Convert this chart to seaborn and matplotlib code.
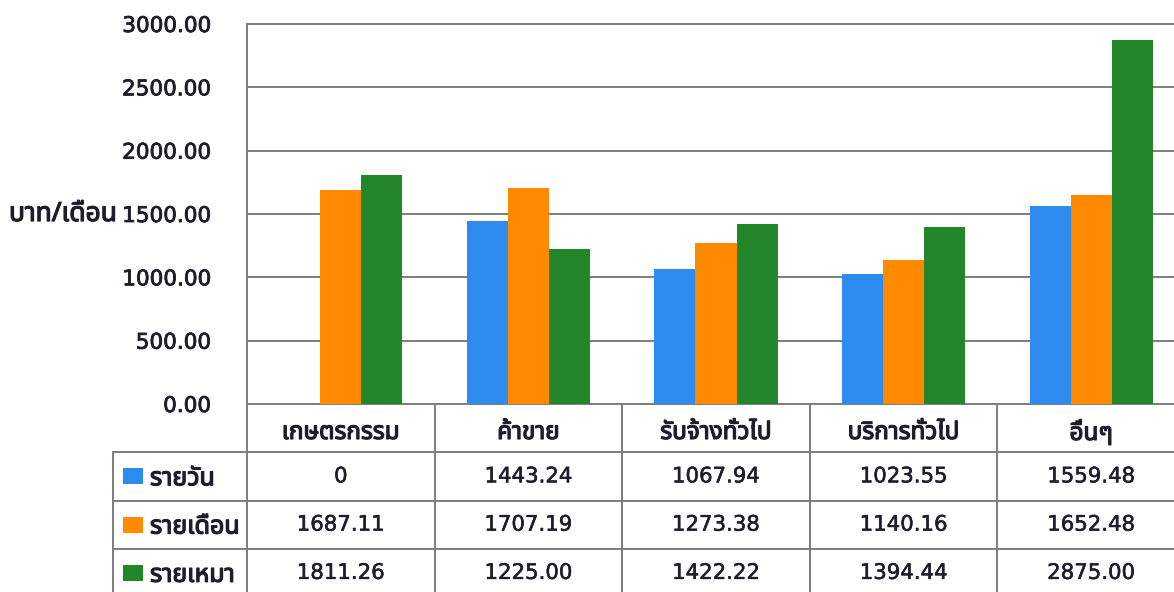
import matplotlib
matplotlib.use("Agg")
import matplotlib.pyplot as plt
import matplotlib.transforms as mtransforms
import matplotlib.patheffects as pe
from matplotlib import font_manager
from matplotlib.ft2font import FT2Font
from matplotlib.patches import Rectangle
import numpy as np
import pandas as pd
import seaborn as sns

# ---- data -------------------------------------------------------------
categories = ["เกษตรกรรม", "ค้าขาย", "รับจ้างทั่วไป", "บริการทั่วไป", "อื่นๆ"]
series_names = ["รายวัน", "รายเดือน", "รายเหมา"]
daily = [0, 1443.24, 1067.94, 1023.55, 1559.48]
monthly = [1687.11, 1707.19, 1273.38, 1140.16, 1652.48]
piecework = [1811.26, 1225.00, 1422.22, 1394.44, 2875.00]
y_ticks = [0, 500, 1000, 1500, 2000, 2500, 3000]
y_label = "บาท/เดือน"
colors = ["#2E8BEF", "#FF8A00", "#23862A"]


def find_thai_family():
    preferred = ["Tahoma", "Noto Sans Thai", "Noto Sans Thai UI", "Loma",
                 "Garuda", "Sarabun", "Waree", "Umpush", "Kinnari", "Norasi",
                 "Laksaman", "Sawasdee", "TlwgTypo", "Purisa"]
    found = {}
    for f in font_manager.fontManager.ttflist:
        try:
            if FT2Font(f.fname).get_char_index(0x0E01):
                found.setdefault(f.name, f.fname)
        except Exception:
            pass
    for p in preferred:
        if p in found:
            return p
    return next(iter(found), None)


sns.set_style("white")
thai = find_thai_family()
thai_family = [thai, "DejaVu Sans"] if thai else ["DejaVu Sans"]
plt.rcParams["font.family"] = ["DejaVu Sans"]

text_c = "#1f1d2b"
# heavier strokes for the Thai labels and a light one for the numbers
heavy = [pe.withStroke(linewidth=0.9, foreground=text_c)]
light = [pe.withStroke(linewidth=0.4, foreground=text_c)]

W, H = 1174, 592
fig = plt.figure(figsize=(W / 100, H / 100), dpi=100)
fig.patch.set_facecolor("white")

# pixel geometry of the plot area
x0, x1 = 247, 1185          # category band spans past the right edge
y_top, y_zero = 24, 404
unit = (x1 - x0) / 5.0      # pixels per category
ax = fig.add_axes([x0 / W, (H - y_zero) / H, (x1 - x0) / W, (y_zero - y_top) / H])

df = pd.DataFrame({
    "category": np.repeat(categories, 3),
    "series": series_names * len(categories),
    "value": np.ravel(np.column_stack([daily, monthly, piecework])),
})

sns.barplot(data=df, x="category", y="value", hue="series",
            order=categories, hue_order=series_names, palette=colors,
            saturation=1, width=0.656, gap=0, linewidth=0, errorbar=None,
            legend=False, ax=ax, zorder=3)

grid_c = "#7d7d7d"
ax.set_xlim(-0.5, 4.5)
ax.set_ylim(0, 3000)
ax.set_yticks(y_ticks)
ax.set_yticklabels([f"{t:.2f}" for t in y_ticks], fontsize=15.5, color=text_c)
for lab in ax.get_yticklabels():
    lab.set_path_effects([pe.withStroke(linewidth=0.6, foreground=text_c)])
ax.tick_params(axis="y", length=0, pad=26)
ax.tick_params(axis="x", length=0, labelbottom=False)
ax.set_xlabel("")
ax.set_ylabel("")
ax.yaxis.grid(True, color=grid_c, lw=1.4)
ax.set_axisbelow(True)
for side in ["left", "top", "bottom"]:
    ax.spines[side].set_color(grid_c)
    ax.spines[side].set_linewidth(1.4)
ax.spines["right"].set_visible(False)

# y-axis caption beside the 1500 tick
trans = mtransforms.blended_transform_factory(fig.transFigure, ax.transData)
ax.text(9 / W, 1500, y_label, transform=trans, ha="left", va="center",
        fontsize=19, fontweight="bold", family=thai_family, color=text_c,
        path_effects=heavy)

# ---- data table under the plot ------------------------------------------
legend_left = 113
row_h = 48.25
n_rows = 4
tab_bottom = y_zero + n_rows * row_h
tax = fig.add_axes([legend_left / W, (H - tab_bottom) / H,
                    (x1 - legend_left) / W, (tab_bottom - y_zero) / H])
xmin = -0.5 - (x0 - legend_left) / unit
tax.set_xlim(xmin, 4.5)
tax.set_ylim(n_rows, 0)
tax.axis("off")

lkw = dict(color=grid_c, lw=1.4, clip_on=False)
for i in range(6):
    tax.plot([i - 0.5, i - 0.5], [0, n_rows], **lkw)
tax.plot([xmin, xmin], [1, n_rows], **lkw)
for r in range(1, n_rows + 1):
    tax.plot([xmin, 4.5], [r, r], **lkw)

for i, cat in enumerate(categories):
    tax.text(i, 0.6, cat, ha="center", va="center", fontsize=17.5,
             fontweight="bold", family=thai_family, color=text_c,
             path_effects=heavy)

for r, (name, vals, col) in enumerate(zip(series_names, [daily, monthly, piecework], colors), start=1):
    tax.add_patch(Rectangle((xmin + 10 / unit, r + 0.5 - 8 / row_h), 20 / unit, 16 / row_h,
                            facecolor=col, edgecolor="none", clip_on=False))
    tax.text(xmin + 37 / unit, r + 0.55, name, ha="left", va="center", fontsize=18,
             fontweight="bold", family=thai_family, color=text_c,
             path_effects=heavy)
    for i, v in enumerate(vals):
        label = "0" if v == 0 else f"{v:.2f}"
        tax.text(i, r + 0.5, label, ha="center", va="center", fontsize=15.3,
                 color=text_c, path_effects=light)

fig.savefig("out.png", dpi=100, facecolor="white")
